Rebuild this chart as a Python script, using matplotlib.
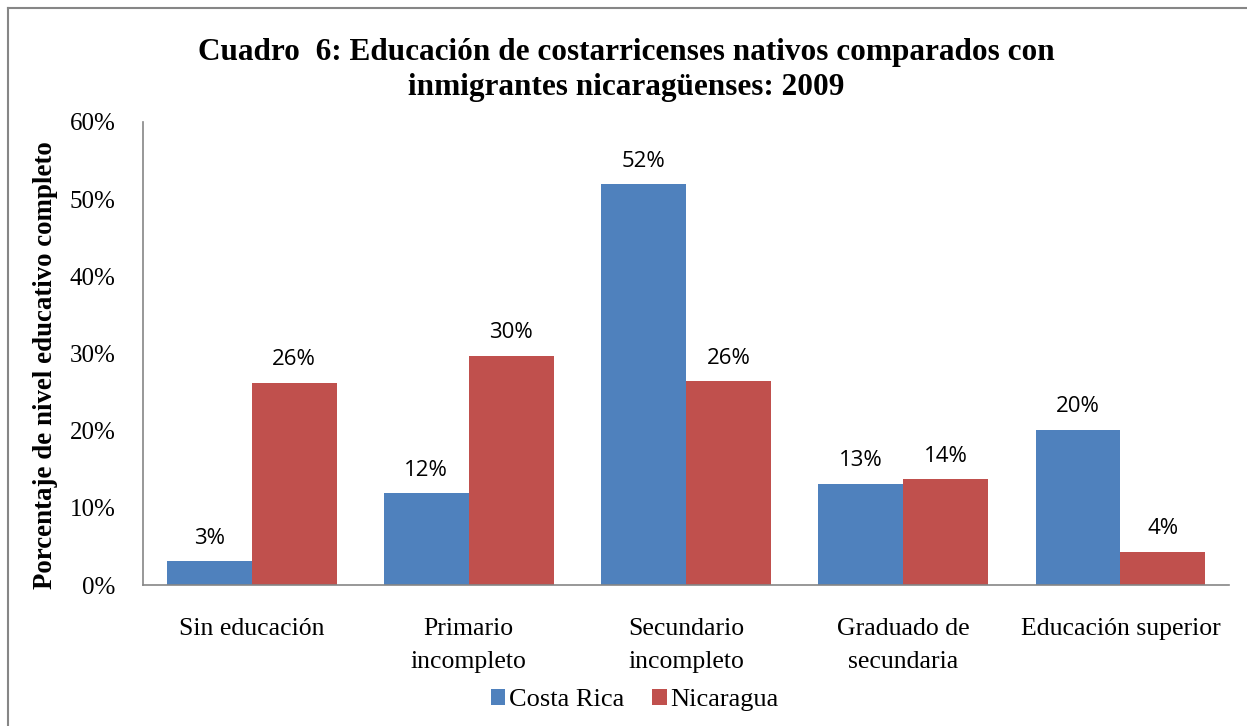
import matplotlib
matplotlib.use("Agg")
import matplotlib.pyplot as plt
import numpy as np
from matplotlib.lines import Line2D

# Nivel educativo completo, 2009
categorias = ["Sin educación", "Primario\nincompleto", "Secundario\nincompleto",
              "Graduado de\nsecundaria", "Educación superior"]
costa_rica = [0.031, 0.119, 0.519, 0.131, 0.201]
nicaragua = [0.262, 0.297, 0.264, 0.137, 0.043]
series = ["Costa Rica", "Nicaragua"]
y_ticks = [0.0, 0.1, 0.2, 0.3, 0.4, 0.5, 0.6]
titulo = ["Cuadro  6: Educación de costarricenses nativos comparados con",
          "inmigrantes nicaragüenses: 2009"]

azul = "#4F81BD"
rojo = "#C0504D"
gris = "#868686"
serif = "Liberation Serif"
sans = "Open Sans"

fig = plt.figure(figsize=(12.47, 7.26), dpi=100)
ax = fig.add_axes([0.1147, 0.1942, 0.8709, 0.6378])

x = np.arange(len(categorias))
w = 0.391
b1 = ax.bar(x - w / 2, costa_rica, w, color=azul, label=series[0])
b2 = ax.bar(x + w / 2, nicaragua, w, color=rojo, label=series[1])

# etiquetas de datos encima de cada barra
for bars, vals in [(b1, costa_rica), (b2, nicaragua)]:
    for r, v in zip(bars, vals):
        ax.annotate(f"{v:.0%}", (r.get_x() + r.get_width() / 2, v),
                    xytext=(0, 9), textcoords="offset points",
                    ha="center", va="bottom", fontsize=16, family=sans,
                    color="#000000")

ax.set_xlim(-0.5, len(categorias) - 0.5)
ax.set_ylim(0, 0.6)
ax.set_yticks(y_ticks)
ax.set_yticklabels([f"{t:.0%}" for t in y_ticks], family=serif, fontsize=18)
ax.set_xticks(x)
ax.set_xticklabels(categorias, family=serif, fontsize=18.5, linespacing=1.6)
ax.tick_params(axis="both", length=0)
ax.tick_params(axis="y", pad=20)
ax.tick_params(axis="x", pad=24)

for s in ["top", "right"]:
    ax.spines[s].set_visible(False)
for s in ["left", "bottom"]:
    ax.spines[s].set_color(gris)
    ax.spines[s].set_linewidth(1.2)

ax.set_ylabel("Porcentaje de nivel educativo completo", family=serif,
              fontsize=19.4, fontweight="bold")
ax.yaxis.set_label_coords(-0.078, 0.474)

# título en dos líneas, alineadas por la línea base
for linea, yb in zip(titulo, [0.918, 0.8685]):
    fig.text(0.502, yb, linea, ha="center", va="baseline", family=serif,
             fontsize=22.5, fontweight="bold")

leg = fig.legend(handles=[b1, b2], labels=series, loc="center",
                 bbox_to_anchor=(0.509, 0.036), ncol=2, frameon=False,
                 prop={"family": serif, "size": 19}, handlelength=0.55,
                 handleheight=0.55, handletextpad=0.15, columnspacing=1.05)

# marco del gráfico (solo borde superior e izquierdo visibles)
fig.add_artist(Line2D([8 / 1247, 8 / 1247], [0, 1 - 8 / 726], color=gris,
                      lw=1.5, transform=fig.transFigure))
fig.add_artist(Line2D([8 / 1247, 1], [1 - 8 / 726, 1 - 8 / 726], color=gris,
                      lw=1.5, transform=fig.transFigure))

fig.savefig("out.png", dpi=100, facecolor="white")
